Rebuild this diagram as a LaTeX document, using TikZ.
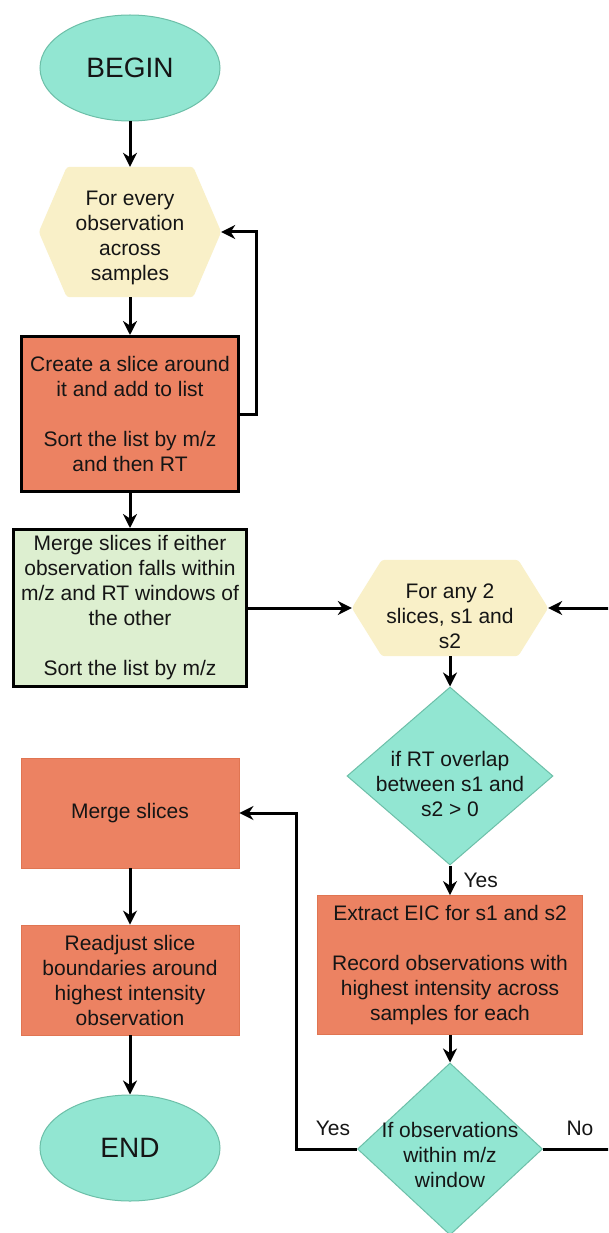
\documentclass[tikz,border=0pt]{standalone}
\usepackage{fontspec}
\setmainfont{Liberation Sans}
\usetikzlibrary{arrows.meta,shapes.geometric,backgrounds}
\definecolor{tealf}{HTML}{92E6D2}
\definecolor{tealb}{HTML}{6CBFA8}
\definecolor{hexf}{HTML}{F9F0C8}
\definecolor{orangef}{HTML}{EC8262}
\definecolor{orangeb}{HTML}{E07552}
\definecolor{greenf}{HTML}{DDEFD0}
\definecolor{txt}{HTML}{151515}
\begin{document}
\begin{tikzpicture}[x=1pt,y=-1pt,
  txtstyle/.style={font=\fontsize{21}{25}\selectfont, text=txt, align=center, inner sep=0pt},
  term/.style={ellipse, draw=tealb, line width=1pt, fill=tealf, inner sep=0pt,
    minimum width=180pt, minimum height=106pt, font=\fontsize{28}{32}\selectfont, text=txt},
  hexbox/.style={rectangle, inner sep=0pt},
  procthick/.style={rectangle, draw=black, line width=3pt, inner sep=0pt, txtstyle},
  procthin/.style={rectangle, draw=orangeb, line width=0.8pt, fill=orangef, inner sep=0pt, txtstyle},
  decis/.style={diamond, draw=tealb, fill=tealf, line width=1pt, inner sep=0pt},
  arr/.style={line width=3pt, -{Stealth[length=14pt,width=14pt,inset=4.5pt]}},
  lbl/.style={txtstyle}
]
\useasboundingbox (0,0) rectangle (608,1233);
\clip (0,0) rectangle (608,1233);

% terminals
\node[term] (begin) at (130,68) {BEGIN};
\node[term] (endn) at (130,1148) {END};

% hexagon 1
\node[hexbox, minimum width=182pt, minimum height=130pt] (h1) at (130,232) {};
\node[txtstyle] (h1t) at ([yshift=-6pt]h1.center) {For every\\observation\\across\\samples};

% process boxes left
\node[procthick, fill=orangef, minimum width=217pt, minimum height=155pt] (b1) at (130,414)
  {Create a slice around\\it and add to list\\[25pt]Sort the list by m/z\\and then RT};
\node[procthick, fill=greenf, minimum width=233pt, minimum height=157pt] (g1) at (130,608)
  {Merge slices if either\\observation falls within\\m/z and RT windows of\\the other\\[25pt]Sort the list by m/z};

% hexagon 2
\node[hexbox, minimum width=196pt, minimum height=96pt] (h2) at (450,608) {};
\node[txtstyle] (h2t) at ([yshift=-8pt]h2.center) {For any 2\\slices, s1 and\\s2};

% decision 1
\node[decis, minimum width=206pt, minimum height=178pt] (d1) at (450,776) {};
\node[txtstyle] (d1t) at ([yshift=-8pt]d1.center) {if RT overlap\\between s1 and\\s2 > 0};

% EIC box
\node[procthin, minimum width=265pt, minimum height=139pt] (eic) at (450,965)
  {Extract EIC for s1 and s2\\[25pt]Record observations with\\highest intensity across\\samples for each};

% decision 2
\node[decis, minimum width=185pt, minimum height=172pt] (d2) at (450,1149) {};
\node[txtstyle] (d2t) at ([yshift=-6pt]d2.center) {If observations\\within m/z\\window};

% left lower boxes
\node[procthin, minimum width=218pt, minimum height=110pt] (ms) at (130,813) {Merge slices};
\node[procthin, minimum width=218pt, minimum height=110pt] (ra) at (130,980)
  {Readjust slice\\boundaries around\\highest intensity\\observation};

% hexagon fills
\begin{scope}[on background layer]
\fill[white] (0,0) rectangle (608,1233);
\fill[hexf, rounded corners=3pt] (h1.west) -- ([xshift=28pt]h1.north west) -- ([xshift=-28pt]h1.north east)
  -- (h1.east) -- ([xshift=-28pt]h1.south east) -- ([xshift=28pt]h1.south west) -- cycle;
\fill[hexf, rounded corners=3pt] (h2.west) -- ([xshift=30pt]h2.north west) -- ([xshift=-30pt]h2.north east)
  -- (h2.east) -- ([xshift=-30pt]h2.south east) -- ([xshift=30pt]h2.south west) -- cycle;
\end{scope}

% connectors
\draw[arr] (begin.south) -- (h1.north);
\draw[arr] (h1.south) -- (b1.north);
\draw[arr] (b1.east) -- ++(16,0) |- (h1.east);
\draw[arr] (b1.south) -- (g1.north);
\draw[arr] (g1.east) -- (h2.west);
\draw[arr] (h2.south) -- (d1.north);
\draw[arr] (d1.south) -- (eic.north) node[pos=0.5, right, xshift=12pt, lbl] (yes1) {Yes};
\draw[arr] (eic.south) -- (d2.north);
\coordinate (rbot) at (625,1149);
\coordinate (rtop) at (625,608);
\draw[arr] (d2.east) -- (rbot) -- (rtop) -- (h2.east);
\coordinate (lc) at (296,1149);
\draw[arr] (d2.west) -- (lc) |- (ms.east);
\draw[arr] (ms.south) -- (ra.north);
\draw[arr] (ra.south) -- (endn.north);

\node[lbl] (yes2) at (333,1128) {Yes};
\node[lbl] (no) at (580,1128) {No};
\end{tikzpicture}
\end{document}
